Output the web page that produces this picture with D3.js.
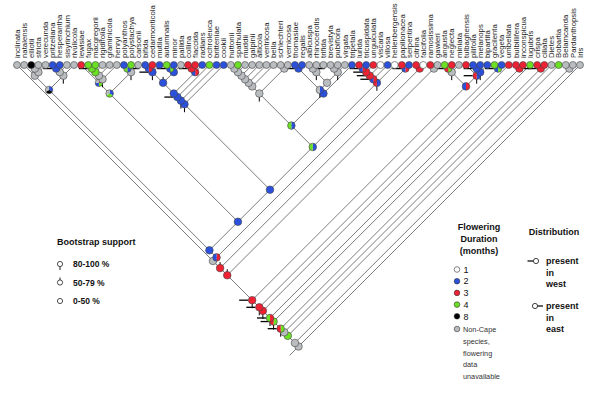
<!DOCTYPE html>
<html><head><meta charset="utf-8">
<script src="https://cdn.jsdelivr.net/npm/d3@7"></script>
<style>body{margin:0;background:#fff}svg{display:block;font-family:"Liberation Sans",Arial,sans-serif}</style>
</head><body><svg id="c" width="600" height="410"></svg>
<script>
// ---- data ----
const species = ["inclinata","natalensis","elliotii","stricta","verecunda","pritzeliana","hesperantha","sisyrinchium","rivulicola","lewisiae",
"fugax","macgregorii","rigidifolia","graminicola","henryi","polyanthos","polystachya","carsonii","bifida","cedarmonticola",
"mutila","autumnalis","minor","pallida","collina","flaccida","radians","ochroleuca","britteniae","cookii",
"huttonii","spathulata","muddii","galpinii","alticola","ventricosa","bella","schlechteri","vernicosa","thomasiae",
"regalis","albicuspa","rhinocerotis","trifida","brevistyla","pubiflora","virgata","tripetala","lurida","tricuspidata",
"unguiculata","viscaria","villosa","hellenbergensis","papilionacea","serpentina","citrina","falcifolia","ramosissima","gawleri",
"angusta","neglecta","miniata","tulbaghensis","pilifolia","melanops","bipartita","gracilenta","vegeta","umbellata",
"bulbillifera","inconspicua","lugubris","crispa","ciliata","Dietes","Bobartia","Belamcanda","Pardanthopsis","Iris"];
// flowering duration per tip: 1,2,3,4,8 or 0 = non-Cape / unavailable
const tipDuration = [0,0,8,0,0,2,2,0,0,3, 4,4,0,0,0,2,4,0,2,3, 2,4,2,0,3,3,2,4,2,2,
0,4,0,0,0,0,0,0,0,2, 2,0,0,0,0,0,0,2,3,2, 3,1,2,1,3,2,3,1,3,0,
4,3,0,3,2,2,2,4,2,3, 3,3,4,3,3,0,4,0,0,0];
// tree topology (tip indices), built clade by clade
const t1_8   = [[1,[[2,3],4]], [[[5,6],7],8]];
const t9_17  = [[9,[[[[10,11],12],13],14]], [[15,16],17]];
const t18_23 = [[[18,19],20],[[21,22],23]];
const t18_29 = [[[[t18_23,[[24,25],26]],27],28],29];
const t30_38 = [[[[[[[30,31],32],33],34],35],36],[37,38]];
const t39_47 = [[[39,40],[[[41,42],43],[[44,45],46]]],47];
const t48_53 = [[[[[48,49],50],51],52],53];
const t30_53 = [[t30_38, t39_47], t48_53];
const t18_53 = [t18_29, t30_53];
const t1_53  = [t1_8, [t9_17, t18_53]];
const t0_59  = [[[0, [t1_53, [54,55]]], [56,57]], [58,59]];
const t60_66 = [[[60,61],62],[63,[[64,65],66]]];
const t0_72  = [[[[t0_59, t60_66],[67,68]],69],[70,71]];
const topology = [[[[[[t0_72,72],[73,74]],75],76],[77,78]],79];
// ancestral flowering duration at internal nodes (key = tip range)
const nodeKeys   = ["2-3","2-4","1-4","5-6","5-7","5-8","1-8","10-11","10-12","10-13","10-14","9-14","15-16","15-17","9-17",
"18-19","18-20","21-22","21-23","18-23","24-25","24-26","18-26","18-27","18-28","18-29",
"39-40","39-46","39-47","30-47","48-49","48-50","48-51","48-52","48-53","30-53","18-53","9-53","1-53",
"54-55","1-55","0-55","56-57","0-57","58-59","0-59","60-61","60-62","64-65","64-66","63-66","60-66",
"0-66","67-68","0-68","0-69","70-71","0-71","0-72","73-74","0-74","0-75","0-76","0-78","0-79"];
const nodeStates = [[0],[0],[0],[2],[0],[0],[2,8,0],[4],[4],[0],[0],[3,4,2,0],[2,4],[0],[2,4,0],
[3,2],[2],[4,2],[2],[2],[3],[3,2],[2],[2],[2],[2],
[2],[2,0],[2],[2,4],[3,2],[3],[3],[3,2],[2,3],[2,4],[2],[2],[2],
[3,2],[3,2],[0],[3],[3],[0],[3],[4,3],[0],[2],[2],[2,3],[3,2],
[3],[4,2],[3],[3],[3],[3,4],[4,3],[3],[4,3],[0],[4],[0],[0]];
// bootstrap support (high = tick below, mid = tick above)
const supportHigh = ["5-8","10-14","15-17","18-20","18-28","18-29","30-38","39-46","41-43","44-46","48-53","60-62","63-66","64-66","0-66","0-68","0-69","0-71","0-72","0-74"];
const supportMid  = ["1-4","9-14","18-23","24-26","0-57","0-59"];
// distribution markers
const westNodes = ["5-6","10-11","18-20","24-25","18-27","21-22","39-40","48-49","48-50","48-51","48-52","54-55","60-61","64-65","63-66","67-68","0-66","0-68","0-71","0-72","0-74","73-74"];
const eastNodes = ["15-16","41-42","70-71"];
const legendDuration = ["1","2","3","4","8"];
const legendDurationKeys = [1,2,3,4,8];
const legendSupport = ["80-100 %","50-79 %"," 0-50 %"];
const legendNonCape = ["Non-Cape","species,","flowering","data","unavailable"];

// ---- drawing ----
const colorOf = d3.scaleOrdinal().domain([0,1,2,3,4,8]).range(["#b9bdc0","#ffffff","#2b50dc","#ee2233","#6ce024","#000000"]);
const svg = d3.select("#c");
const tipY = 65;
const x = d3.scaleLinear().domain([0, species.length-1]).range([17, 580]);

const root = d3.hierarchy(topology, d => Array.isArray(d) ? d : null);
root.eachAfter(n => {
  if (!n.children) { n.lo = n.hi = n.data; }
  else { n.lo = d3.min(n.children, c => c.lo); n.hi = d3.max(n.children, c => c.hi); }
  n.px = (x(n.lo) + x(n.hi)) / 2;
  n.py = tipY + (x(n.hi) - x(n.lo)) / 2;
  n.key = n.lo + "-" + n.hi;
});
const stateMap = new Map(nodeKeys.map((k,i) => [k, nodeStates[i]]));

const gLinks = svg.append("g").attr("stroke","#444").attr("stroke-width",0.7);
gLinks.selectAll("line").data(root.descendants().filter(d => d.parent)).join("line")
  .attr("x1", d => d.parent.px).attr("y1", d => d.parent.py)
  .attr("x2", d => d.px).attr("y2", d => d.py);
gLinks.append("line").attr("x1", root.px).attr("y1", root.py)
  .attr("x2", root.px - 9).attr("y2", root.py + 9);

// west / east markers
const marks = svg.append("g").attr("stroke","#000").attr("stroke-width",1.3);
root.descendants().filter(d => westNodes.includes(d.key)).forEach(d => {
  marks.append("line").attr("x1", d.px - 13).attr("x2", d.px - 4).attr("y1", d.py).attr("y2", d.py);
});
root.descendants().filter(d => eastNodes.includes(d.key)).forEach(d => {
  marks.append("line").attr("x1", d.px + 4).attr("x2", d.px + 12).attr("y1", d.py).attr("y2", d.py);
});
root.descendants().filter(d => supportHigh.includes(d.key)).forEach(d => {
  marks.append("line").attr("x1", d.px).attr("x2", d.px).attr("y1", d.py + 3).attr("y2", d.py + 8).attr("stroke-width",1);
});
root.descendants().filter(d => supportMid.includes(d.key)).forEach(d => {
  marks.append("line").attr("x1", d.px).attr("x2", d.px).attr("y1", d.py - 3).attr("y2", d.py - 6).attr("stroke-width",1);
});

// node pies
const pie = d3.pie().sort(null).value(1);
const arcI = d3.arc().innerRadius(0).outerRadius(3.8);
const nodes = svg.append("g");
root.descendants().filter(d => d.children).forEach(d => {
  const st = stateMap.get(d.key) || [0];
  const g = nodes.append("g").attr("transform", `translate(${d.px},${d.py})`);
  g.selectAll("path").data(pie(st)).join("path").attr("d", arcI).attr("fill", p => colorOf(p.data));
  g.append("circle").attr("r", 3.8).attr("fill","none").attr("stroke","#444").attr("stroke-width",0.6);
});
// tips
const tips = root.leaves();
nodes.selectAll("circle.tip").data(tips).join("circle").attr("class","tip")
  .attr("cx", d => d.px).attr("cy", d => d.py).attr("r", 3.5)
  .attr("fill", d => colorOf(tipDuration[d.data])).attr("stroke","#444").attr("stroke-width",0.6);
svg.append("g").selectAll("text").data(tips).join("text")
  .attr("transform", d => `translate(${d.px},${tipY - 7}) rotate(-90)`)
  .attr("dy","0.35em").attr("font-size",7.8).attr("fill","#222")
  .text(d => species[d.data]);

// ---- legends ----
const lg = svg.append("g").attr("font-weight","bold").attr("fill","#111");
lg.append("text").attr("x",57).attr("y",245).attr("font-size",9).text("Bootstrap support");
legendSupport.forEach((t,i) => {
  const yy = 264 + i*18.5;
  lg.append("circle").attr("cx",60).attr("cy",yy).attr("r",2.6).attr("fill","#fff").attr("stroke","#222").attr("stroke-width",0.8);
  if (i===0) lg.append("line").attr("x1",60).attr("x2",60).attr("y1",yy+2.6).attr("y2",yy+6).attr("stroke","#222");
  if (i===1) lg.append("line").attr("x1",60).attr("x2",60).attr("y1",yy-2.6).attr("y2",yy-5).attr("stroke","#222");
  lg.append("text").attr("x",73).attr("y",yy+3).attr("font-size",8.5).text(t);
});
const fl = svg.append("g").attr("fill","#111");
["Flowering","Duration","(months)"].forEach((t,i) =>
  fl.append("text").attr("x",479).attr("y",230 + i*12).attr("text-anchor","middle").attr("font-weight","bold").attr("font-size",9).text(t));
legendDuration.forEach((t,i) => {
  const yy = 269.5 + i*11.7;
  fl.append("circle").attr("cx",457).attr("cy",yy).attr("r",2.8).attr("fill",colorOf(legendDurationKeys[i])).attr("stroke","#333").attr("stroke-width",0.6);
  fl.append("text").attr("x",463.5).attr("y",yy+3.2).attr("font-size",9).text(t);
});
fl.append("circle").attr("cx",457).attr("cy",329).attr("r",2.8).attr("fill",colorOf(0)).attr("stroke","#333").attr("stroke-width",0.6);
legendNonCape.forEach((t,i) =>
  fl.append("text").attr("x",463).attr("y",332 + i*11.8).attr("font-size",7.3).attr("fill","#333").text(t));
const dl = svg.append("g").attr("fill","#111").attr("font-weight","bold").attr("font-size",9);
dl.append("text").attr("x",554).attr("y",235).attr("text-anchor","middle").text("Distribution");
["present","in","west"].forEach((t,i) => dl.append("text").attr("x",546).attr("y",264 + i*11.5).text(t));
["present","in","east"].forEach((t,i) => dl.append("text").attr("x",546).attr("y",309 + i*11.5).text(t));
dl.append("line").attr("x1",527.5).attr("x2",533).attr("y1",261).attr("y2",261).attr("stroke","#111").attr("stroke-width",1.3);
dl.append("circle").attr("cx",536).attr("cy",261).attr("r",2.6).attr("fill","#fff").attr("stroke","#111").attr("stroke-width",0.8);
dl.append("circle").attr("cx",535).attr("cy",306).attr("r",2.6).attr("fill","#fff").attr("stroke","#111").attr("stroke-width",0.8);
dl.append("line").attr("x1",537.6).attr("x2",543).attr("y1",306).attr("y2",306).attr("stroke","#111").attr("stroke-width",1.3);
</script></body></html>
